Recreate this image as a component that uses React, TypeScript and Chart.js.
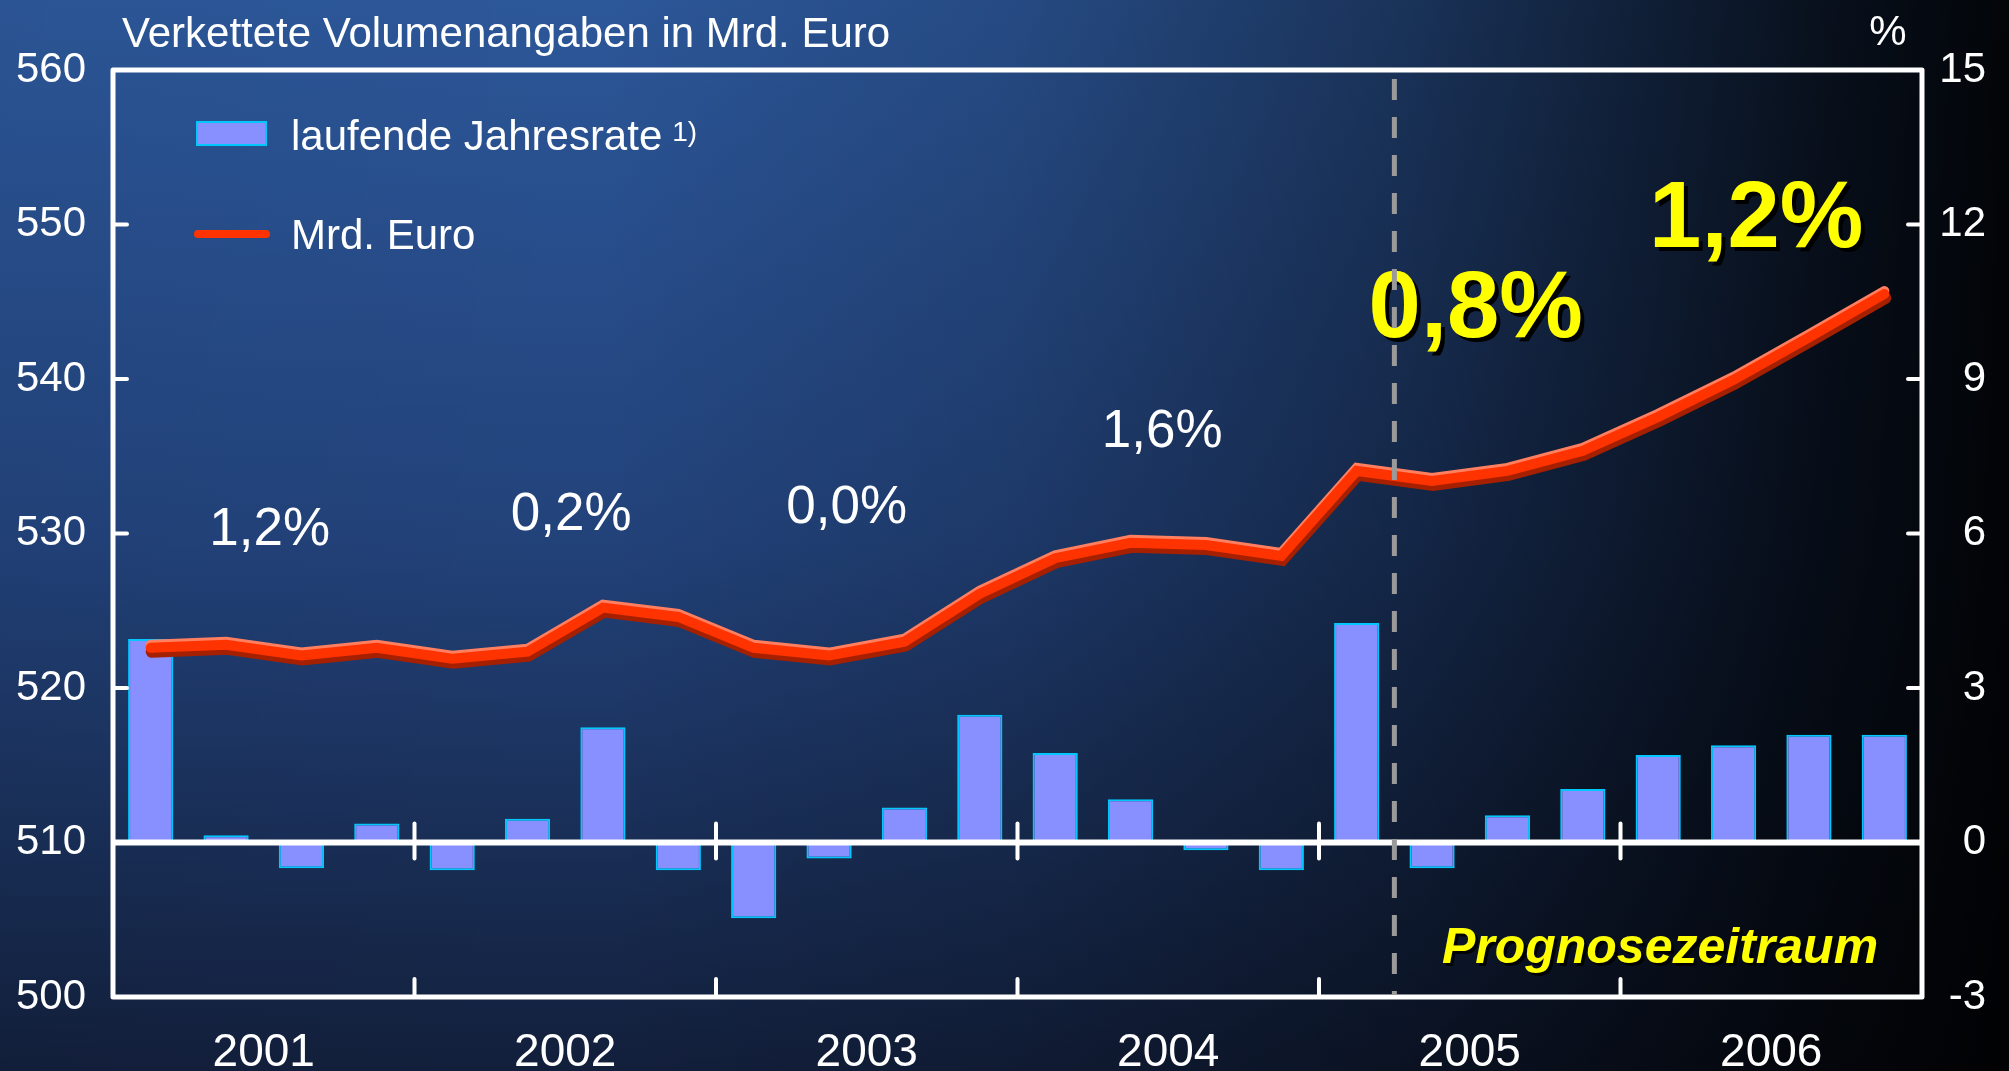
import React, { useEffect, useRef } from 'react';
import { Chart, registerables } from 'chart.js';

Chart.register(...registerables);

// ---------- data ----------
const QUARTERS = [
  '2001 Q1', '2001 Q2', '2001 Q3', '2001 Q4',
  '2002 Q1', '2002 Q2', '2002 Q3', '2002 Q4',
  '2003 Q1', '2003 Q2', '2003 Q3', '2003 Q4',
  '2004 Q1', '2004 Q2', '2004 Q3', '2004 Q4',
  '2005 Q1', '2005 Q2', '2005 Q3', '2005 Q4',
  '2006 Q1', '2006 Q2', '2006 Q3', '2006 Q4',
];
const YEARS = ['2001', '2002', '2003', '2004', '2005', '2006'];

// laufende Jahresrate (%), right axis
const RATE = [
  3.95, 0.14, -0.5, 0.37,
  -0.54, 0.46, 2.24, -0.54,
  -1.47, -0.31, 0.68, 2.48,
  1.74, 0.84, -0.15, -0.54,
  4.26, -0.5, 0.53, 1.04,
  1.7, 1.89, 2.09, 2.09,
];

// Mrd. Euro (chained volumes), left axis
const GDP = [
  522.6, 522.8, 522.1, 522.6,
  521.9, 522.35, 525.2, 524.6,
  522.6, 522.1, 523.0, 526.1,
  528.4, 529.4, 529.25, 528.55,
  534.05, 533.4, 534.05, 535.35,
  537.55, 539.95, 542.7, 545.5,
];

// annual growth rates shown above each year
const ANNUAL_RATES = ['1,2%', '0,2%', '0,0%', '1,6%', '0,8%', '1,2%'];
const FORECAST_YEARS = ['2005', '2006'];
const FORECAST_START_INDEX = 17; // first forecast quarter (2005 Q2)

const LEFT_MIN = 500;
const LEFT_MAX = 560;
const LEFT_STEP = 10;
const RIGHT_MIN = -3;
const RIGHT_MAX = 15;
const RIGHT_STEP = 3;

const TITLE = 'Verkettete Volumenangaben in Mrd. Euro';
const RIGHT_UNIT = '%';
const BAR_LABEL = 'laufende Jahresrate';
const BAR_FOOTNOTE = '1)';
const LINE_LABEL = 'Mrd. Euro';
const FORECAST_LABEL = 'Prognosezeitraum';

// ---------- styles ----------
const FONT = "'Liberation Sans', Arial, Helvetica, sans-serif";
const BAR_FILL = '#8890FF';
const BAR_BORDER = '#00C8FF';
const LINE_RED = '#FF3300';
const LINE_HI = '#FF7F60';
const LINE_SHADOW = '#A52000';
const YELLOW = '#FFFF00';

const bgPlugin = {
  id: 'bgGradient',
  beforeDraw(chart: any) {
    const { ctx, width, height } = chart;
    ctx.save();
    const g = ctx.createLinearGradient(0, 0, 0, height);
    g.addColorStop(0, '#2C5799');
    g.addColorStop(0.5, '#22427A');
    g.addColorStop(1, '#121F3B');
    ctx.fillStyle = g;
    ctx.fillRect(0, 0, width, height);
    const h = ctx.createLinearGradient(0, 0, width, 0);
    h.addColorStop(0, 'rgba(0,0,0,0.03)');
    h.addColorStop(0.3, 'rgba(0,0,0,0)');
    h.addColorStop(0.5, 'rgba(0,0,0,0.14)');
    h.addColorStop(0.7, 'rgba(0,0,0,0.42)');
    h.addColorStop(0.9, 'rgba(0,0,0,0.8)');
    h.addColorStop(1, 'rgba(0,0,0,0.95)');
    ctx.fillStyle = h;
    ctx.fillRect(0, 0, width, height);
    ctx.restore();
  },
};

const offsetPlugin = {
  id: 'offsetLines',
  beforeDatasetDraw(chart: any, args: any) {
    const ds = chart.data.datasets[args.index];
    if (ds.drawOffset) {
      chart.ctx.save();
      chart.ctx.translate(ds.drawOffset[0], ds.drawOffset[1]);
    }
  },
  afterDatasetDraw(chart: any, args: any) {
    const ds = chart.data.datasets[args.index];
    if (ds.drawOffset) chart.ctx.restore();
  },
};

const framePlugin = {
  id: 'frame',
  afterDatasetsDraw(chart: any) {
    const { ctx, chartArea } = chart;
    const { left, right, top, bottom } = chartArea;
    const yL = chart.scales.y;
    const yR = chart.scales.y1;
    const xQ = chart.scales.x;
    ctx.save();
    ctx.strokeStyle = '#FFFFFF';
    ctx.lineCap = 'round';
    // inward ticks
    ctx.lineWidth = 4;
    for (let v = LEFT_MIN + LEFT_STEP; v < LEFT_MAX; v += LEFT_STEP) {
      const y = yL.getPixelForValue(v);
      ctx.beginPath();
      ctx.moveTo(left, y);
      ctx.lineTo(left + 14, y);
      ctx.stroke();
    }
    for (let v = RIGHT_MIN + RIGHT_STEP; v < RIGHT_MAX; v += RIGHT_STEP) {
      const y = yR.getPixelForValue(v);
      ctx.beginPath();
      ctx.moveTo(right - 14, y);
      ctx.lineTo(right, y);
      ctx.stroke();
    }
    // zero line
    const y0 = yR.getPixelForValue(0);
    ctx.lineCap = 'butt';
    ctx.lineWidth = 6;
    ctx.beginPath();
    ctx.moveTo(left, y0);
    ctx.lineTo(right, y0);
    ctx.stroke();
    // year separators
    ctx.lineCap = 'round';
    ctx.lineWidth = 4;
    for (let k = 1; k < YEARS.length; k++) {
      const x = xQ.getPixelForValue(k * 4 - 0.5);
      ctx.beginPath();
      ctx.moveTo(x, y0 - 19);
      ctx.lineTo(x, y0 + 16);
      ctx.stroke();
      ctx.beginPath();
      ctx.moveTo(x, bottom - 18);
      ctx.lineTo(x, bottom);
      ctx.stroke();
    }
    // frame
    ctx.lineCap = 'butt';
    ctx.lineJoin = 'round';
    ctx.lineWidth = 5;
    ctx.strokeRect(left, top, right - left, bottom - top);
    ctx.restore();
  },
};

function shadowText(ctx: any, text: string, x: number, y: number, color: string, shadow: string, off: number) {
  ctx.fillStyle = shadow;
  ctx.fillText(text, x + off, y + off);
  ctx.fillStyle = color;
  ctx.fillText(text, x, y);
}

const textPlugin = {
  id: 'texts',
  afterDraw(chart: any) {
    const { ctx, chartArea } = chart;
    const { left, right, top, bottom } = chartArea;
    const yrs = chart.scales.years;
    ctx.save();
    ctx.textBaseline = 'alphabetic';

    // header texts
    ctx.fillStyle = '#FFFFFF';
    ctx.font = `42px ${FONT}`;
    ctx.textAlign = 'left';
    ctx.fillText(TITLE, left + 9, 47);
    ctx.textAlign = 'center';
    ctx.fillText(RIGHT_UNIT, right - 34, 45);

    // legend
    const barDs = chart.data.datasets.find((d: any) => d.label === BAR_LABEL);
    const lineDs = chart.data.datasets.find((d: any) => d.label === LINE_LABEL);
    ctx.fillStyle = barDs.backgroundColor;
    ctx.fillRect(left + 83, top + 51, 71, 25);
    ctx.strokeStyle = barDs.borderColor;
    ctx.lineWidth = 2;
    ctx.strokeRect(left + 84, top + 52, 69, 23);
    ctx.fillStyle = '#FFFFFF';
    ctx.textAlign = 'left';
    ctx.font = `42px ${FONT}`;
    ctx.fillText(barDs.label, left + 178, top + 80);
    const w = ctx.measureText(barDs.label).width;
    ctx.font = `28px ${FONT}`;
    ctx.fillText(BAR_FOOTNOTE, left + 178 + w + 10, top + 71);
    ctx.strokeStyle = lineDs.borderColor;
    ctx.lineWidth = 8;
    ctx.lineCap = 'round';
    ctx.beginPath();
    ctx.moveTo(left + 85, top + 164);
    ctx.lineTo(left + 153, top + 164);
    ctx.stroke();
    ctx.font = `42px ${FONT}`;
    ctx.fillText(lineDs.label, left + 178, top + 179);

    // annual rates
    const layout = [
      { dx: 6, y: 545 },
      { dx: 6, y: 530 },
      { dx: -20, y: 523 },
      { dx: -6, y: 447 },
      { dx: 6, y: 337 },
      { dx: -15, y: 247 },
    ];
    ctx.textAlign = 'center';
    YEARS.forEach((yr, i) => {
      const x = yrs.getPixelForValue(i) + layout[i].dx;
      const y = layout[i].y;
      if (FORECAST_YEARS.includes(yr)) {
        ctx.font = `bold 94px ${FONT}`;
        shadowText(ctx, ANNUAL_RATES[i], x, y, YELLOW, '#000000', 4);
      } else {
        ctx.font = `53px ${FONT}`;
        ctx.fillStyle = '#FFFFFF';
        ctx.fillText(ANNUAL_RATES[i], x, y);
      }
    });

    // forecast label
    ctx.font = `italic bold 50px ${FONT}`;
    ctx.textAlign = 'center';
    shadowText(ctx, FORECAST_LABEL, right - 262, bottom - 34, YELLOW, 'rgba(0,0,0,0.85)', 3);

    // forecast divider
    const xQ = chart.scales.x;
    const xd = xQ.getPixelForValue(FORECAST_START_INDEX - 0.5);
    ctx.strokeStyle = '#9A9A9A';
    ctx.lineWidth = 5;
    ctx.lineCap = 'butt';
    ctx.setLineDash([21, 17]);
    ctx.beginPath();
    ctx.moveTo(xd, top + 9);
    ctx.lineTo(xd, bottom - 2);
    ctx.stroke();
    ctx.restore();
  },
};

export default function App() {
  const ref = useRef<HTMLCanvasElement | null>(null);

  useEffect(() => {
    document.body.style.margin = '0';
    const canvas = ref.current;
    if (!canvas) return;
    Chart.defaults.font.family = FONT;
    const lineBase = {
      type: 'line',
      data: GDP,
      yAxisID: 'y',
      pointRadius: 0,
      tension: 0,
      borderCapStyle: 'round',
    };
    const chart = new Chart(canvas, {
      data: {
        labels: QUARTERS,
        datasets: [
          { ...lineBase, label: LINE_LABEL, borderColor: LINE_RED, borderWidth: 10, order: 0 } as any,
          { ...lineBase, label: 'hl', borderColor: LINE_HI, borderWidth: 10, drawOffset: [0, -3], order: 1 } as any,
          { ...lineBase, label: 'sh', borderColor: LINE_SHADOW, borderWidth: 12, drawOffset: [1, 4], order: 2 } as any,
          {
            type: 'bar',
            label: BAR_LABEL,
            data: RATE,
            yAxisID: 'y1',
            backgroundColor: BAR_FILL,
            borderColor: BAR_BORDER,
            borderWidth: 2,
            barPercentage: 0.6,
            categoryPercentage: 1,
            order: 3,
          } as any,
        ],
      },
      options: {
        responsive: false,
        animation: false,
        layout: { padding: { top: 70, right: 23, left: 0, bottom: 0 } },
        plugins: {
          legend: { display: false },
          tooltip: { enabled: false },
          title: { display: false },
        },
        scales: {
          x: {
            type: 'category',
            display: false,
            offset: true,
            grid: { display: false },
          },
          years: {
            type: 'category',
            labels: YEARS,
            position: 'bottom',
            offset: true,
            grid: { display: false, drawTicks: false },
            border: { display: false },
            ticks: { color: '#FFFFFF', font: { size: 46, family: FONT }, padding: 29, maxRotation: 0, autoSkip: false },
            afterFit(s: any) { s.height = 74; },
          },
          y: {
            position: 'left',
            min: LEFT_MIN,
            max: LEFT_MAX,
            grid: { display: false, drawTicks: false },
            border: { display: false },
            ticks: { stepSize: LEFT_STEP, color: '#FFFFFF', font: { size: 42, family: FONT }, padding: 27 },
            afterFit(s: any) { s.width = 113; },
          },
          y1: {
            position: 'right',
            min: RIGHT_MIN,
            max: RIGHT_MAX,
            grid: { display: false, drawTicks: false },
            border: { display: false },
            ticks: { stepSize: RIGHT_STEP, color: '#FFFFFF', font: { size: 42, family: FONT }, padding: 10, crossAlign: 'far' },
            afterFit(s: any) { s.width = 64; },
          },
        },
      } as any,
      plugins: [bgPlugin, offsetPlugin, framePlugin, textPlugin],
    } as any);
    return () => chart.destroy();
  }, []);

  return (
    <div style={{ width: 2009, height: 1071 }}>
      <canvas ref={ref} width={2009} height={1071} style={{ display: 'block' }} />
    </div>
  );
}
